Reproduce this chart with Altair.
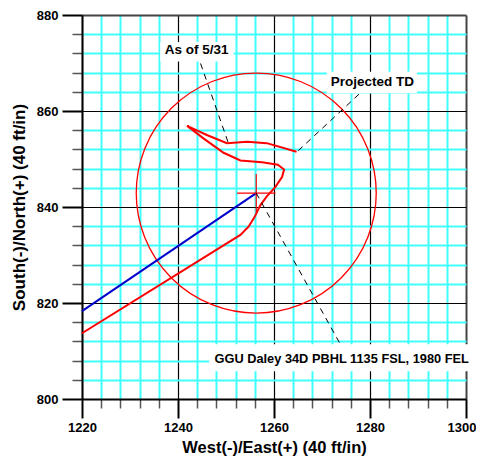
import altair as alt
import pandas as pd

# Axis tick values (every 4 ft; majors every 20 ft)
x_ticks = list(range(1220, 1301, 4))
y_ticks = list(range(800, 881, 4))
x_domain = [1220, 1300]
y_domain = [800, 880]

# Actual wellbore path (red)
actual_e = [1220.0, 1253.0, 1254.7, 1256.0, 1257.1, 1258.5, 1260.3, 1261.7, 1262.1,
            1260.8, 1257.5, 1253.0, 1249.5, 1245.3, 1241.9, 1246.0, 1250.2, 1254.4,
            1258.5, 1264.7]
actual_n = [813.7, 834.2, 835.9, 838.0, 840.3, 842.2, 844.2, 846.3, 847.8,
            848.8, 849.3, 849.7, 851.3, 854.3, 856.9, 855.0, 853.3, 853.6,
            853.3, 851.5]

# Planned path (blue)
plan_e = [1220.0, 1256.3]
plan_n = [818.3, 842.9]

# Target and tolerance circle
target_e = 1256.3
target_n = 842.9
target_radius = 25
cross_half = 4

# Leader lines (dashed)
leader_e1 = [1244.7, 1277.7, 1256.3]
leader_n1 = [869.9, 863.5, 842.9]
leader_e2 = [1250.5, 1264.8, 1274.1]
leader_n2 = [853.3, 851.5, 810.9]

# Labels and their white boxes
label_text = ["As of 5/31", "Projected TD", "GGU Daley 34D PBHL 1135 FSL, 1980 FEL"]
label_e = [1243.9, 1280.5, 1247.6]
label_n = [872.8, 866.1, 808.3]
box_e1 = [1236.3, 1271.0, 1246.5]
box_e2 = [1251.6, 1289.8, 1305.0]
box_n1 = [870.3, 863.7, 805.8]
box_n2 = [874.4, 868.2, 811.4]

W = 384
H = 384
FONT = "Liberation Sans"

major = "datum.value % 20 === 0"
last_x = "datum.value === 1300"

x_axis = alt.Axis(
    values=x_ticks, format="d",
    labelExpr=f"{major} ? datum.label : ''",
    labelOverlap=False, labelFlush=False,
    labelAlign={"condition": {"test": last_x, "value": "right"}, "value": "center"},
    labelOffset={"condition": {"test": last_x, "value": 10}, "value": 0},
    labelFont=FONT, labelFontSize=13, labelFontWeight="bold", labelColor="black",
    labelPadding=3,
    grid=True,
    gridColor={"condition": [{"test": last_x, "value": "#444444"},
                             {"test": major, "value": "#000000"}], "value": "#40ffff"},
    gridWidth={"condition": [{"test": last_x, "value": 2},
                             {"test": major, "value": 1.2}], "value": 2},
    tickSize={"condition": {"test": major, "value": 19}, "value": 9},
    tickWidth={"condition": {"test": major, "value": 2}, "value": 1.5},
    tickColor={"condition": {"test": major, "value": "#000000"}, "value": "#555555"},
    domainColor="black", domainWidth=2,
    title="West(-)/East(+) (40 ft/in)",
    titleFont=FONT, titleFontSize=16.5, titleFontWeight="bold", titleColor="black",
    titlePadding=5,
)

y_axis = alt.Axis(
    values=y_ticks, format="d",
    labelExpr=f"{major} ? datum.label : ''",
    labelOverlap=False, labelFlush=False,
    labelFont=FONT, labelFontSize=13, labelFontWeight="bold", labelColor="black",
    labelPadding=4,
    grid=True,
    gridColor={"condition": [{"test": "datum.value === 880", "value": "#444444"},
                             {"test": major, "value": "#000000"}], "value": "#40ffff"},
    gridWidth={"condition": [{"test": "datum.value === 880", "value": 2},
                             {"test": major, "value": 1.2}], "value": 2},
    tickSize={"condition": {"test": major, "value": 20}, "value": 10},
    tickWidth={"condition": {"test": major, "value": 2}, "value": 1.5},
    tickColor={"condition": {"test": major, "value": "#000000"}, "value": "#555555"},
    domainColor="black", domainWidth=2,
    title="South(-)/North(+) (40 ft/in)",
    titleFont=FONT, titleFontSize=17, titleFontWeight="bold", titleColor="black",
    titlePadding=8,
)

X = alt.X("x:Q", scale=alt.Scale(domain=x_domain, nice=False, zero=False), axis=x_axis)
Y = alt.Y("y:Q", scale=alt.Scale(domain=y_domain, nice=False, zero=False), axis=y_axis)

boxes_df = pd.DataFrame({"x": box_e1, "x2": box_e2, "y": box_n1, "y2": box_n2})
boxes = alt.Chart(boxes_df).mark_rect(color="white").encode(
    x=X, x2="x2:Q", y=Y, y2="y2:Q")

px_per_unit = W / (x_domain[1] - x_domain[0])
circle_size = (2 * target_radius * px_per_unit) ** 2
circle_df = pd.DataFrame({"x": [target_e], "y": [target_n]})
circle = alt.Chart(circle_df).mark_point(
    shape="circle", size=circle_size, filled=False, stroke="#ff0000",
    strokeWidth=1.3, opacity=1).encode(x=X, y=Y)

plan_df = pd.DataFrame({"x": plan_e, "y": plan_n, "o": list(range(len(plan_e)))})
plan = alt.Chart(plan_df).mark_line(color="#0000cc", strokeWidth=2).encode(
    x=X, y=Y, order="o:Q")

actual_df = pd.DataFrame({"x": actual_e, "y": actual_n, "o": list(range(len(actual_e)))})
actual = alt.Chart(actual_df).mark_line(color="#ff0000", strokeWidth=2, interpolate="linear").encode(
    x=X, y=Y, order="o:Q")

cross_df = pd.DataFrame({
    "x": [target_e - cross_half, target_e],
    "x2": [target_e + cross_half, target_e],
    "y": [target_n, target_n - cross_half],
    "y2": [target_n, target_n + cross_half],
})
cross = alt.Chart(cross_df).mark_rule(color="#ff0000", strokeWidth=1.2).encode(
    x=X, x2="x2:Q", y=Y, y2="y2:Q")

leader_df = pd.DataFrame({"x": leader_e1, "y": leader_n1, "x2": leader_e2, "y2": leader_n2})
leaders = alt.Chart(leader_df).mark_rule(color="black", strokeWidth=1, strokeDash=[6, 5]).encode(
    x=X, x2="x2:Q", y=Y, y2="y2:Q")

lab_df = pd.DataFrame({"x": label_e, "y": label_n, "t": label_text})
labels_c = alt.Chart(lab_df.iloc[:2]).mark_text(
    font=FONT, fontSize=13.5, fontWeight="bold", color="black", align="center",
    baseline="middle").encode(x=X, y=Y, text="t:N")
labels_l = alt.Chart(lab_df.iloc[2:]).mark_text(
    font=FONT, fontSize=12.8, fontWeight="bold", color="black", align="left",
    baseline="middle").encode(x=X, y=Y, text="t:N")

chart = alt.layer(boxes, circle, plan, actual, cross, leaders, labels_c, labels_l).properties(
    width=W, height=H,
    autosize=alt.AutoSizeParams(type="none"),
    padding={"left": 74, "top": 7, "right": 10, "bottom": 59},
    background="white",
).configure_view(stroke=None)

chart.save("out.html", embed_options={"renderer": "svg", "actions": False})
